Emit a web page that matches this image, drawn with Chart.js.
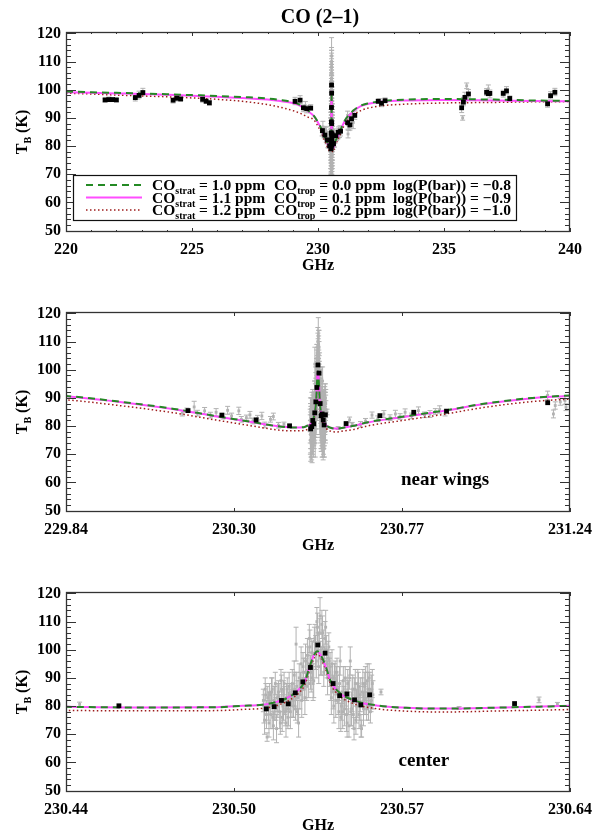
<!DOCTYPE html>
<html>
<head>
<meta charset="utf-8">
<script src="https://cdn.jsdelivr.net/npm/chart.js@4.4.0/dist/chart.umd.min.js"></script>
<style>
html, body { margin: 0; padding: 0; background: #fff; overflow: hidden; }
#wrap { position: relative; width: 605px; height: 833px; }
canvas { position: absolute; left: 0; }
</style>
</head>
<body>
<div id="wrap">
  <canvas id="p1" width="605" height="280" style="top:0px"></canvas>
  <canvas id="p2" width="605" height="280" style="top:280px"></canvas>
  <canvas id="p3" width="605" height="280" style="top:560px"></canvas>
</div>
<script>
// ---------- model spectra (GHz, K) ----------
var modelFreq = [220.0, 221.0, 222.0, 223.0, 224.0, 225.0, 226.0, 227.0, 228.0, 228.5,
  229.0, 229.3, 229.6, 229.838, 229.998, 230.138, 230.248, 230.348, 230.428, 230.468,
  230.498, 230.508, 230.516, 230.522, 230.528, 230.5328, 230.535, 230.5365, 230.5377, 230.539,
  230.5412, 230.543, 230.5466, 230.5527, 230.5619, 230.573, 230.588, 230.6108, 230.638, 230.673,
  230.768, 230.888, 230.998, 231.133, 231.238, 231.4, 231.7, 232.0, 232.5, 233.5,
  235.0, 237.0, 238.5, 240.0];
// CO_strat 1.0 ppm, CO_trop 0.0 ppm, log P = -0.8
var modelA = [99.4, 99.1, 98.9, 98.7, 98.4, 98.1, 97.8, 97.4, 96.9, 96.4,
  95.6, 94.6, 92.6, 90.7, 88.5, 86.1, 83.7, 81.6, 79.9, 79.5,
  79.6, 80.1, 80.5, 81.6, 84.1, 88.9, 94.9, 98.3, 99.5, 98.3,
  93.7, 88.9, 84.7, 81.9, 80.2, 79.4, 79.1, 79.5, 80.1, 81.3,
  83.2, 85.5, 87.9, 90.0, 90.9, 92.6, 94.4, 95.2, 95.9, 96.5,
  96.7, 96.5, 96.2, 96.0];
// CO_strat 1.1 ppm, CO_trop 0.1 ppm, log P = -0.9
var modelB = [99.1, 98.9, 98.7, 98.5, 98.2, 97.9, 97.5, 97.1, 96.5, 96.0,
  95.3, 94.3, 92.4, 90.6, 88.4, 86.0, 83.6, 81.5, 79.9, 79.5,
  79.6, 80.1, 80.5, 81.6, 84.1, 88.9, 94.9, 98.3, 99.4, 98.2,
  93.6, 88.8, 84.6, 81.8, 80.1, 79.4, 79.1, 79.5, 80.1, 81.2,
  83.1, 85.4, 87.8, 89.9, 90.8, 92.4, 94.2, 95.0, 95.7, 96.2,
  96.4, 96.2, 96.0, 95.9];
// CO_strat 1.2 ppm, CO_trop 0.2 ppm, log P = -1.0
var modelC = [98.8, 98.5, 98.1, 97.8, 97.5, 97.1, 96.6, 95.9, 94.7, 93.8,
  92.6, 91.6, 90.3, 89.3, 87.1, 84.7, 82.3, 80.2, 78.6, 78.3,
  78.4, 78.8, 79.2, 80.3, 82.9, 87.7, 93.8, 97.2, 98.5, 97.3,
  92.6, 87.8, 83.6, 80.7, 79.0, 78.2, 77.9, 78.3, 78.8, 80.0,
  81.9, 84.2, 86.6, 88.7, 89.6, 91.0, 92.6, 93.5, 94.3, 94.9,
  95.3, 95.5, 95.7, 95.8];

// ---------- observed channels [GHz, K, sigma] ----------
var wingChannels = [
  [221.55, 96.2, 0.6], [221.70, 96.6, 0.8], [221.85, 96.5, 0.7], [222.00, 96.3, 0.6],
  [222.75, 97.0, 1.0], [222.85, 97.7, 1.0], [222.90, 98.3, 1.2], [223.05, 99.2, 1.3],
  [224.25, 96.1, 0.8], [224.35, 96.6, 0.6], [224.40, 97.2, 0.9], [224.55, 96.9, 0.8],
  [225.42, 96.4, 0.8], [225.56, 96.1, 0.7], [225.69, 95.2, 0.8],
  [229.09, 96.0, 1.3], [229.29, 96.5, 1.4], [229.42, 93.4, 1.2], [229.50, 94.3, 1.5], [229.55, 93.1, 1.3], [229.71, 93.7, 1.0],
  [231.27, 87.3, 1.6], [231.33, 89.8, 1.8], [231.40, 88.4, 2.2], [231.46, 91.0, 1.5],
  [232.39, 95.9, 0.8], [232.45, 96.1, 0.7], [232.52, 95.0, 1.0], [232.66, 96.3, 0.8],
  [235.70, 93.4, 1.5], [235.74, 90.0, 0.8], [235.77, 95.8, 1.5], [235.83, 97.5, 1.6], [235.90, 101.4, 1.0], [235.97, 98.6, 1.5],
  [236.69, 99.2, 1.2], [236.76, 100.3, 1.4], [236.82, 98.5, 1.4],
  [237.35, 98.6, 1.2], [237.48, 99.8, 1.3], [237.61, 96.8, 1.0],
  [239.11, 94.8, 1.0], [239.23, 98.0, 1.3], [239.40, 99.2, 1.3]
];
var nearChannels = [
  [230.161, 84.6, 1.0], [230.174, 85.6, 0.8], [230.194, 86.8, 2.0], [230.203, 84.6, 1.0], [230.223, 85.4, 1.2],
  [230.239, 83.9, 1.0], [230.255, 84.9, 1.3], [230.274, 83.4, 0.9], [230.287, 85.6, 1.4], [230.298, 83.6, 1.0],
  [230.318, 85.4, 1.3], [230.325, 82.4, 1.0], [230.339, 83.0, 0.9], [230.349, 84.0, 1.2], [230.357, 81.8, 1.0],
  [230.370, 82.8, 1.0], [230.382, 83.6, 1.3], [230.390, 80.4, 1.0], [230.406, 82.4, 1.0], [230.414, 83.4, 1.2],
  [230.428, 80.3, 1.0], [230.4434, 80.6, 0.8],
  [230.563, 85.0, 1.0], [230.594, 79.3, 0.5], [230.6257, 82.2, 1.0], [230.633, 80.6, 0.7], [230.656, 80.6, 1.0],
  [230.670, 81.8, 0.9], [230.688, 83.9, 1.1], [230.704, 82.6, 1.0], [230.721, 84.3, 1.2], [230.738, 83.0, 1.0],
  [230.753, 84.3, 1.3], [230.766, 83.4, 1.0], [230.780, 84.9, 1.2], [230.798, 83.6, 1.0], [230.817, 85.5, 1.3],
  [230.834, 84.0, 1.0], [230.849, 84.3, 1.2], [230.864, 85.2, 1.0], [230.876, 85.9, 1.3], [230.891, 84.6, 1.0],
  [231.176, 90.9, 1.5], [231.192, 84.3, 1.4], [231.197, 87.3, 1.3], [231.211, 88.6, 1.2], [231.224, 89.1, 1.5], [231.227, 86.7, 1.2]
];
var coreChannels = [
  [230.5163, 82, 4], [230.5168, 75, 5], [230.5173, 84, 4], [230.5178, 69, 1.5], [230.5183, 80, 5], [230.5188, 84, 4],
  [230.5193, 77, 5], [230.5198, 86, 4], [230.5203, 73, 5], [230.5208, 81, 6], [230.5213, 79, 4], [230.5218, 83, 5],
  [230.5223, 85, 4], [230.5228, 78, 6], [230.5233, 89, 4], [230.5238, 76, 5], [230.5243, 82, 7], [230.5248, 82, 5],
  [230.5253, 74, 5], [230.5258, 86, 4], [230.5263, 79, 6], [230.5268, 84, 4], [230.5273, 81, 5],
  [230.5278, 88, 5], [230.5283, 80, 4], [230.5288, 86, 6], [230.5293, 102, 6], [230.5298, 78, 4], [230.5303, 74, 5],
  [230.5308, 84, 5], [230.5313, 95, 6], [230.5318, 86, 4], [230.5323, 92, 5], [230.5328, 83, 6], [230.5333, 92, 5],
  [230.5338, 98, 6], [230.5343, 88, 5], [230.5348, 101, 6], [230.5353, 90, 5], [230.5358, 96, 7], [230.5363, 89, 6],
  [230.5368, 104, 5], [230.5373, 96, 6], [230.5378, 108, 5], [230.5383, 94, 6], [230.5388, 112, 6.5], [230.5393, 96, 5],
  [230.5398, 106, 6], [230.5403, 92, 5], [230.5408, 104, 6], [230.5413, 100, 5], [230.5418, 90, 6], [230.5423, 101, 5],
  [230.5428, 94, 5], [230.5433, 83, 6], [230.5438, 90, 5], [230.5443, 80, 6], [230.5448, 92, 4], [230.5453, 89, 5],
  [230.5458, 86, 5], [230.5463, 78, 6], [230.5468, 96, 5], [230.5473, 80, 5], [230.5478, 78, 6],
  [230.5483, 82, 5], [230.5488, 90, 4], [230.5493, 77, 6], [230.5498, 88, 5], [230.5503, 73, 4], [230.5508, 96, 5],
  [230.5513, 79, 6], [230.5518, 86, 5], [230.5523, 72, 4], [230.5528, 88, 5], [230.5533, 80, 6], [230.5538, 88, 5],
  [230.5543, 77, 5], [230.5548, 84, 6], [230.5553, 72, 3], [230.5558, 88, 5],
  [230.5563, 82, 5], [230.5568, 88, 6], [230.5573, 79, 4], [230.5578, 86, 6], [230.5583, 90, 5], [230.5588, 78, 4],
  [230.5593, 85, 6], [230.5598, 84, 5]
];
// second polarisation / interleaved channels of the line core
var coreChannelsB = [
  [230.51655, 79, 5], [230.51705, 86, 4], [230.51755, 77, 5], [230.51805, 83, 4], [230.51855, 74, 5], [230.51905, 81, 4],
  [230.51955, 85, 5], [230.52005, 76, 4], [230.52055, 82, 5], [230.52105, 88, 4], [230.52155, 72, 5], [230.52205, 80, 4],
  [230.52255, 83, 5], [230.52305, 74, 4], [230.52355, 86, 5], [230.52405, 80, 6], [230.52455, 88, 4], [230.52505, 78, 5],
  [230.52555, 83, 5], [230.52605, 76, 4], [230.52655, 87, 5], [230.52705, 78, 6], [230.52755, 84, 4],
  [230.52805, 82, 6], [230.52855, 91, 5], [230.52905, 79, 4], [230.52955, 87, 5], [230.53005, 83, 6], [230.53055, 90, 5],
  [230.53105, 88, 4], [230.53155, 82, 6], [230.53205, 94, 5], [230.53255, 86, 4], [230.53305, 96, 6], [230.53355, 87, 5],
  [230.53405, 95, 6], [230.53455, 104, 5], [230.53505, 92, 6], [230.53555, 99, 5], [230.53605, 88, 6], [230.53655, 103, 5],
  [230.53705, 99, 6], [230.53755, 110, 5], [230.53805, 100, 6], [230.53855, 106, 5], [230.53905, 97, 6], [230.53955, 109, 5],
  [230.54005, 101, 6], [230.54055, 96, 5], [230.54105, 108, 6], [230.54155, 95, 5], [230.54205, 97, 6], [230.54255, 92, 5],
  [230.54305, 88, 6], [230.54355, 95, 5], [230.54405, 85, 6], [230.54455, 90, 5], [230.54505, 82, 6], [230.54555, 92, 5],
  [230.54605, 82, 5], [230.54655, 88, 6], [230.54705, 76, 5], [230.54755, 85, 4], [230.54805, 89, 5],
  [230.54855, 79, 6], [230.54905, 85, 5], [230.54955, 74, 5], [230.55005, 83, 6], [230.55055, 90, 4], [230.55105, 78, 5],
  [230.55155, 84, 6], [230.55205, 77, 5], [230.55255, 86, 4], [230.55305, 75, 5], [230.55355, 82, 6], [230.55405, 87, 5],
  [230.55455, 81, 6], [230.55505, 73, 4], [230.55555, 85, 5], [230.55605, 79, 6],
  [230.55655, 87, 5], [230.55705, 81, 4], [230.55755, 89, 6], [230.55805, 80, 5], [230.55855, 86, 6], [230.55905, 82, 4],
  [230.55955, 88, 5]
];
// binned averages [GHz, K]
var binned = [
  [221.55, 96.4], [221.70, 96.5], [221.85, 96.5], [222.00, 96.4],
  [222.75, 97.2], [222.90, 98.0], [223.05, 99.0],
  [224.25, 96.3], [224.40, 97.0], [224.55, 96.7],
  [225.42, 96.6], [225.56, 95.9], [225.69, 95.4],
  [229.09, 95.9], [229.29, 96.3], [229.42, 93.6], [229.55, 93.3], [229.71, 93.5],
  [230.177, 85.5], [230.271, 83.9], [230.366, 82.2], [230.459, 80.1],
  [230.5175, 79.0], [230.5206, 79.8], [230.5235, 82.0], [230.5262, 80.8], [230.5290, 84.7],
  [230.5320, 88.6], [230.5350, 93.7], [230.5379, 101.7], [230.5408, 98.8], [230.5440, 88.0],
  [230.5466, 83.7], [230.5495, 84.3], [230.5525, 82.2], [230.5550, 80.4], [230.5585, 84.0],
  [230.616, 80.9], [230.710, 83.7], [230.804, 84.9], [230.895, 85.3],
  [231.176, 88.3], [231.27, 87.5], [231.33, 89.7], [231.46, 90.9],
  [232.39, 95.9], [232.52, 95.2], [232.66, 96.1],
  [235.70, 93.6], [235.77, 95.6], [235.83, 97.3], [235.97, 98.5],
  [236.69, 99.1], [236.76, 98.6], [236.82, 98.7],
  [237.35, 98.7], [237.48, 99.6], [237.61, 96.9],
  [239.11, 95.0], [239.23, 97.9], [239.40, 99.1]
];

// ---------- axes / legend text ----------
var yTicks = [50, 60, 70, 80, 90, 100, 110, 120];
var x1Ticks = [220, 225, 230, 235, 240];
var x1Labels = ['220', '225', '230', '235', '240'];
var x2Ticks = [229.838, 230.3047, 230.7713, 231.238];
var x2Labels = ['229.84', '230.30', '230.77', '231.24'];
var x3Ticks = [230.438, 230.5047, 230.5713, 230.638];
var x3Labels = ['230.44', '230.50', '230.57', '230.64'];
var legendStrat = ['1.0', '1.1', '1.2'];
var legendTrop = ['0.0', '0.1', '0.2'];
var legendLogP = ['\u22120.8', '\u22120.9', '\u22121.0'];

var SERIF = "'Liberation Serif', 'Times New Roman', serif";
var GRAY = '#b2b2b2';
var lineStyles = [
  { color: '#248a24', width: 2, dash: [7, 5] },
  { color: '#ff4dff', width: 2, dash: [] },
  { color: '#9e1b1b', width: 1.5, dash: [1.5, 2.5] }
];

function richText(ctx, x, y, parts, size, align) {
  var subSize = Math.round(size * 0.64);
  var total = 0;
  parts.forEach(function(p) {
    ctx.font = 'bold ' + (p[1] ? subSize : size) + 'px ' + SERIF;
    p.w = ctx.measureText(p[0]).width;
    total += p.w;
  });
  var cx = align === 'center' ? x - total / 2 : x;
  ctx.textBaseline = 'alphabetic';
  ctx.textAlign = 'left';
  parts.forEach(function(p) {
    ctx.font = 'bold ' + (p[1] ? subSize : size) + 'px ' + SERIF;
    ctx.fillText(p[0], cx, p[1] ? y + size * 0.28 : y);
    cx += p.w;
  });
}

function decor(p) {
  return {
    id: 'decor',
    afterDraw: function(chart) {
      var ctx = chart.ctx, a = chart.chartArea, xs = chart.scales.x, ys = chart.scales.y;
      ctx.save();
      // ticks and frame
      ctx.strokeStyle = '#333';
      ctx.lineWidth = 1;
      ctx.beginPath();
      for (var v = 50; v <= 120; v += 2) {
        var len = v % 10 === 0 ? 10 : 5;
        var y = Math.round(ys.getPixelForValue(v)) + 0.5;
        ctx.moveTo(a.left, y); ctx.lineTo(a.left + len, y);
        ctx.moveTo(a.right, y); ctx.lineTo(a.right - len, y);
      }
      function xt(val, l) {
        var x = Math.round(xs.getPixelForValue(val)) + 0.5;
        ctx.moveTo(x, a.bottom); ctx.lineTo(x, a.bottom - l);
        ctx.moveTo(x, a.top); ctx.lineTo(x, a.top + l);
      }
      p.xTicks.forEach(function(t) { xt(t, 4); });
      p.xMinor.forEach(function(t) { xt(t, 2); });
      ctx.stroke();
      ctx.lineWidth = 1.3;
      ctx.strokeRect(Math.round(a.left) + 0.5, Math.round(a.top) + 0.5, Math.round(a.width) - 1, Math.round(a.height) - 1);

      ctx.fillStyle = '#000';
      // y axis title
      ctx.save();
      ctx.translate(21, (a.top + a.bottom) / 2);
      ctx.rotate(-Math.PI / 2);
      richText(ctx, 0, 5.5, [['T', 0], ['B', 1], [' (K)', 0]], 16, 'center');
      ctx.restore();

      if (p.title) richText(ctx, 320, 23, [[p.title, 0]], 20, 'center');
      if (p.note) {
        richText(ctx, xs.getPixelForValue(p.note[1]), ys.getPixelForValue(p.note[2]) + 5, [[p.note[0], 0]], 19, 'center');
      }
      if (p.legend) {
        ctx.fillStyle = '#fff';
        ctx.fillRect(73.5, 175.5, 443, 45);
        ctx.strokeStyle = '#111';
        ctx.lineWidth = 1.2;
        ctx.strokeRect(73.5, 175.5, 443, 45);
        ctx.fillStyle = '#000';
        for (var i = 0; i < 3; i++) {
          var ry = 185 + i * 12.5;
          var s = lineStyles[i];
          ctx.beginPath();
          ctx.strokeStyle = s.color;
          ctx.lineWidth = s.width;
          ctx.setLineDash(s.dash);
          ctx.moveTo(86, ry); ctx.lineTo(142, ry);
          ctx.stroke();
          ctx.setLineDash([]);
          richText(ctx, 152, ry + 5, [['CO', 0], ['strat', 1], [' = ' + legendStrat[i] + ' ppm', 0]], 15.5, 'left');
          richText(ctx, 274, ry + 5, [['CO', 0], ['trop', 1], [' = ' + legendTrop[i] + ' ppm', 0]], 15.5, 'left');
          richText(ctx, 393, ry + 5, [['log(P(bar)) = ' + legendLogP[i], 0]], 15.5, 'left');
        }
      }
      ctx.restore();
    }
  };
}

var allChannels = wingChannels.concat(nearChannels, coreChannels, coreChannelsB);

function makePanel(p) {
  var errData = [];
  allChannels.forEach(function(c) {
    errData.push({ x: c[0], y: c[1] - c[2] }, { x: c[0], y: c[1] + c[2] }, { x: c[0], y: null });
  });
  var models = [modelA, modelB, modelC].map(function(m, i) {
    var s = lineStyles[i];
    return {
      type: 'line', showLine: true, order: i + 1, clip: 0,
      data: modelFreq.map(function(f, k) { return { x: f, y: m[k] }; }),
      borderColor: s.color, borderWidth: s.width, borderDash: s.dash,
      pointRadius: 0, cubicInterpolationMode: 'monotone', fill: false
    };
  });
  var datasets = [
    {
      type: 'scatter', order: 0, clip: 0,
      data: binned.map(function(b) { return { x: b[0], y: b[1] }; }),
      pointStyle: 'rect', pointRadius: 3.4, backgroundColor: '#000', borderWidth: 0
    }
  ].concat(models, [
    {
      type: 'scatter', order: 4, clip: 0,
      data: allChannels.map(function(c) { return { x: c[0], y: c[1] }; }),
      pointStyle: 'rect', pointRadius: 2, backgroundColor: GRAY, borderWidth: 0
    },
    {
      type: 'line', showLine: true, spanGaps: false, order: 5, clip: 0,
      data: errData,
      borderColor: GRAY, borderWidth: 1,
      pointStyle: 'line', pointRadius: 2.5, pointBorderColor: GRAY, pointBorderWidth: 1,
      pointBackgroundColor: GRAY
    }
  ]);

  var tickFont = { family: SERIF, size: 16, weight: 'bold' };
  new Chart(document.getElementById(p.id), {
    type: 'scatter',
    data: { datasets: datasets },
    options: {
      responsive: false, animation: false, devicePixelRatio: 1, events: [],
      layout: { padding: { top: 32, right: 35, left: 0, bottom: 0 } },
      plugins: { legend: { display: false }, tooltip: { enabled: false } },
      scales: {
        x: {
          type: 'linear', min: p.xMin, max: p.xMax,
          grid: { display: false, drawTicks: false }, border: { display: false },
          afterBuildTicks: function(s) { s.ticks = p.xTicks.map(function(v) { return { value: v }; }); },
          afterFit: function(s) { s.height = 48; },
          ticks: {
            autoSkip: false, maxRotation: 0, padding: 8, color: '#000', font: tickFont,
            callback: function(v, i) { return p.xLabels[i]; }
          },
          title: { display: true, text: 'GHz', color: '#000', font: tickFont, padding: { top: 0, bottom: 5 } }
        },
        y: {
          type: 'linear', min: 49.5, max: 120.5,
          grid: { display: false, drawTicks: false }, border: { display: false },
          afterBuildTicks: function(s) { s.ticks = yTicks.map(function(v) { return { value: v }; }); },
          afterFit: function(s) { s.width = 66; },
          ticks: { padding: 5, color: '#000', font: tickFont, callback: function(v) { return String(v); } }
        }
      }
    },
    plugins: [decor(p)]
  });
}

var minor1 = [];
for (var g = 221; g < 240; g++) if (g % 5 !== 0) minor1.push(g);

makePanel({ id: 'p1', xMin: 220, xMax: 240, xTicks: x1Ticks, xLabels: x1Labels, xMinor: minor1,
  title: 'CO (2\u20131)', legend: true, note: null });
makePanel({ id: 'p2', xMin: 229.838, xMax: 231.238, xTicks: x2Ticks, xLabels: x2Labels, xMinor: [],
  title: null, legend: false, note: ['near wings', 230.891, 60.7] });
makePanel({ id: 'p3', xMin: 230.438, xMax: 230.638, xTicks: x3Ticks, xLabels: x3Labels, xMinor: [],
  title: null, legend: false, note: ['center', 230.580, 60.5] });
</script>
</body>
</html>
